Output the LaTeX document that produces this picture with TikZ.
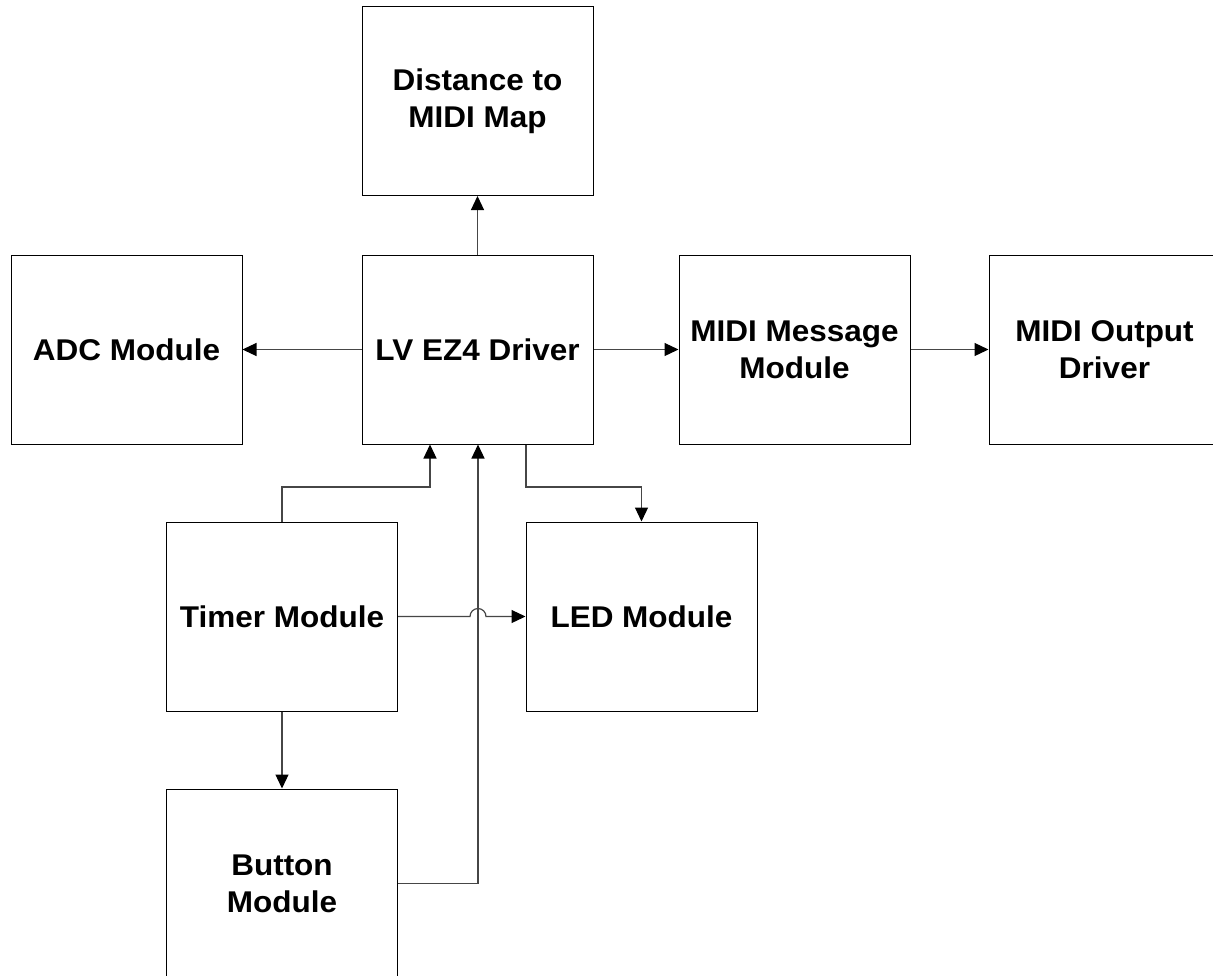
\documentclass[tikz,border=0pt]{standalone}
\usepackage{fontspec}
\newfontfamily\boxfont[FakeStretch=1.05]{Liberation Sans}
\usetikzlibrary{arrows.meta}
\definecolor{conn}{RGB}{70,70,70}
\begin{document}
\begin{tikzpicture}[x=1pt,y=-1pt,
  blk/.style={draw=black,line width=1pt,fill=white,inner sep=0pt,
    minimum width=231pt,minimum height=189pt,align=center,
    font=\boxfont\bfseries\fontsize{30}{37}\selectfont},
  conn/.style={draw=conn,line width=1.2pt,
    -{Triangle[length=14pt,width=13pt,color=black]}}]
\useasboundingbox[fill=white] (0,0) rectangle (1213,975);
\node[blk] (Dist) at (477.5,101) {Distance to\\MIDI Map};
\node[blk] (ADC) at (126.5,349.5) {ADC Module};
\node[blk] (LV) at (477.5,349.5) {LV EZ4 Driver};
\node[blk] (Msg) at (794.5,349.5) {MIDI Message\\Module};
\node[blk] (Out) at (1104.5,349.5) {MIDI Output\\Driver};
\node[blk] (Timer) at (282,616.5) {Timer Module};
\node[blk] (LED) at (641.5,616.5) {LED Module};
\node[blk] (Btn) at (282,883.5) {Button\\Module};
\coordinate (tj) at (430,487);
\coordinate (lj) at (526,487);
\coordinate (bj) at (478,445);
\draw[conn] (LV.north) -- (Dist.south);
\draw[conn] (LV.west) -- (ADC.east);
\draw[conn] (LV.east) -- (Msg.west);
\draw[conn] (Msg.east) -- (Out.west);
\draw[conn] (Timer.north) |- (tj) -- (tj |- LV.south);
\draw[conn] (lj |- LV.south) -- (lj) -| (LED.north);
\draw[conn] (Btn.east) -| (bj |- LV.south);
\draw[conn] (Timer.east) -- (470,616.5) arc (180:360:8) -- (LED.west);
\draw[conn] (Timer.south) -- (Btn.north);
\end{tikzpicture}
\end{document}
